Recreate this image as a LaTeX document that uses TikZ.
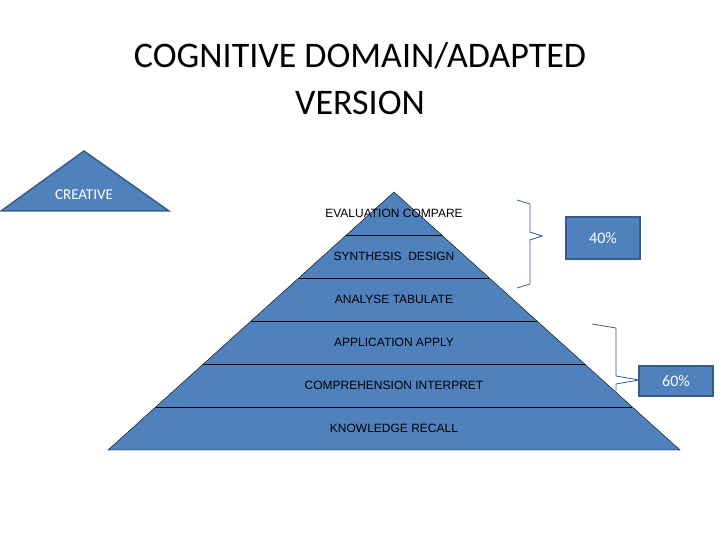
\documentclass[tikz,border=0pt]{standalone}
\usepackage{fontspec}
\setmainfont{Liberation Sans}
\newfontfamily\titlefont{Carlito}
\usetikzlibrary{positioning}
\definecolor{pyrblue}{HTML}{4F81BD}
\definecolor{pyredge}{HTML}{385D8A}
\tikzset{
  level/.style={font=\fontsize{12}{14}\selectfont},
  pct/.style={draw=pyredge, line width=1.5pt, fill=pyrblue, text=white, minimum width=74pt, font=\titlefont\fontsize{16}{18}\selectfont},
  bracket/.style={draw=pyredge, line width=0.8pt}
}
\begin{document}
\begin{tikzpicture}[x=1pt, y=-1pt]
  \useasboundingbox (0,0) rectangle (720,540);
  \node[font=\titlefont\fontsize{36}{47}\selectfont, align=center] (title) at (360,79) {COGNITIVE DOMAIN/ADAPTED\\VERSION};
  % small triangle
  \draw[pyredge, line width=1.5pt, fill=pyrblue] (1,211) -- (84,151) -- (169,211) -- cycle;
  \node[text=white, font=\titlefont\fontsize{15}{18}\selectfont] (creative) at (84,195) {CREATIVE};
  % pyramid
  \draw[black, fill=pyrblue] (108,450) -- (394,192) -- (680,450) -- cycle;
  \foreach \y in {235,278,321,364,407}
    \draw[black] ({394-(\y-192)/258*286},\y) -- ({394+(\y-192)/258*286},\y);
  \node[level] (eval) at (394,213) {EVALUATION COMPARE};
  \node[level] (synth) at (394,256) {SYNTHESIS\ \ DESIGN};
  \node[level] (anal) at (394,299) {ANALYSE TABULATE};
  \node[level] (appl) at (394,342) {APPLICATION APPLY};
  \node[level] (comp) at (394,385) {COMPREHENSION INTERPRET};
  \node[level] (know) at (394,428) {KNOWLEDGE RECALL};
  % percentages
  \node[pct, minimum height=42pt] (forty) at (603,238) {40\%};
  \node[pct, minimum height=30pt] (sixty) at (676,381) {60\%};
  \coordinate (tipA) at (542,236);
  \coordinate (tipB) at (639,380);
  \draw[bracket] (517,200) -- (530,204) -- (530,232) -- (tipA) -- (530,240) -- (530,284) -- (517,288);
  \draw[bracket] (592,324) -- (616,328) -- (616,376) -- (tipB) -- (616,384) -- (616,391);
\end{tikzpicture}
\end{document}
